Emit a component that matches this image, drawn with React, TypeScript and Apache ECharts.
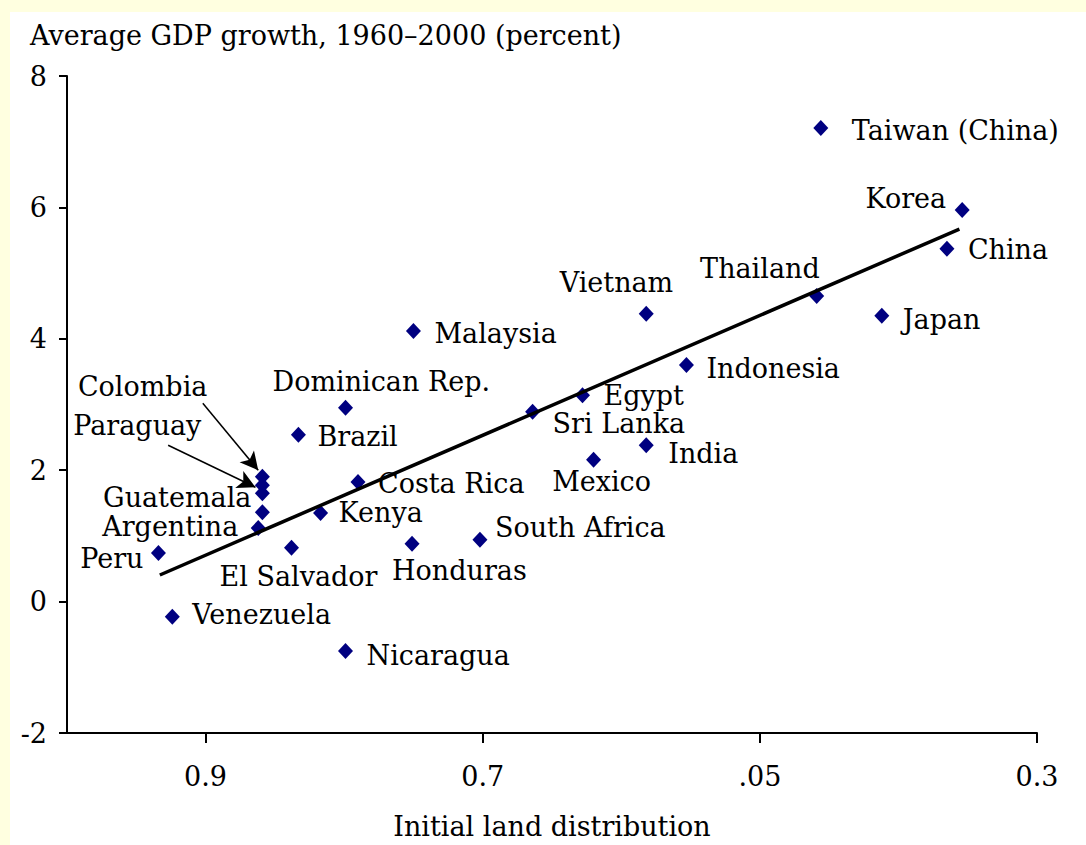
import React, { useEffect, useRef } from "react";
import * as echarts from "echarts";

const countries = [
  "Taiwan (China)", "Korea", "China", "Thailand", "Japan", "Vietnam", "Indonesia",
  "Malaysia", "Egypt", "Sri Lanka", "India", "Mexico", "Dominican Rep.", "Brazil",
  "Costa Rica", "Kenya", "South Africa", "Honduras", "El Salvador", "Venezuela",
  "Nicaragua", "Peru", "Guatemala", "Argentina", "Colombia", "Paraguay", "",
];
const landDistribution = [
  0.456, 0.354, 0.365, 0.459, 0.412, 0.582, 0.553,
  0.75, 0.628, 0.664, 0.582, 0.62, 0.799, 0.833,
  0.79, 0.817, 0.702, 0.751, 0.838, 0.924,
  0.799, 0.934, 0.859, 0.862, 0.859, 0.859, 0.859,
];
const gdpGrowth = [
  7.21, 5.96, 5.37, 4.65, 4.35, 4.38, 3.6,
  4.12, 3.14, 2.89, 2.38, 2.16, 2.95, 2.54,
  1.82, 1.35, 0.94, 0.88, 0.82, -0.23,
  -0.75, 0.74, 1.36, 1.12, 1.9, 1.65, 1.77,
];
const trendX = [0.933, 0.356];
const trendY = [0.405, 5.67];
const xTickValues = [0.9, 0.7, 0.5, 0.3];
const xTickLabels = ["0.9", "0.7", ".05", "0.3"];
const yTitle = "Average GDP growth, 1960\u20132000 (percent)";
const xTitle = "Initial land distribution";

// label placement: [align, dx, dy]
const labelLayout: Record<string, [string, number, number]> = {
  "Taiwan (China)": ["left", 31, 3],
  Korea: ["right", -16, -12],
  China: ["left", 21, 1],
  Thailand: ["right", 3, -28],
  Japan: ["left", 21, 4],
  Vietnam: ["right", 27, -31],
  Indonesia: ["left", 20, 3],
  Malaysia: ["left", 21, 3],
  Egypt: ["left", 21, 0],
  "Sri Lanka": ["left", 20, 12],
  India: ["left", 22, 8],
  Mexico: ["center", 8, 22],
  "Dominican Rep.": ["left", -73, -26],
  Brazil: ["left", 19, 2],
  "Costa Rica": ["left", 20, 1],
  Kenya: ["left", 18, 0],
  "South Africa": ["left", 15, -12],
  Honduras: ["left", -20, 27],
  "El Salvador": ["left", -72, 29],
  Venezuela: ["left", 20, -2],
  Nicaragua: ["left", 21, 5],
  Peru: ["right", -15, 6],
  Guatemala: ["right", -11, -15],
  Argentina: ["right", -20, -2],
  Colombia: ["right", -55, -90],
  Paraguay: ["right", -61, -68],
};

// arrows from labels to points: [fromX, fromY, toX, toY]
const arrows = [
  [0.902, 3.02, 0.862, 2.0],
  [0.927, 2.38, 0.864, 1.74],
];

const FONT = "DejaVu Serif";
const FS = 27;

export default function App() {
  const ref = useRef<HTMLDivElement>(null);
  useEffect(() => {
    if (!ref.current) return;
    const chart = echarts.init(ref.current, null, { renderer: "svg" });
    const data = countries.map((c, i) => {
      const lay = labelLayout[c];
      return {
        name: c,
        value: [landDistribution[i], gdpGrowth[i]],
        label: lay
          ? { show: true, align: lay[0], offset: [lay[1], lay[2]] }
          : { show: false },
      };
    });
    chart.setOption({
      animation: false,
      backgroundColor: "#FFFFE0",
      graphic: [
        {
          type: "rect",
          z: -100,
          shape: { x: 10, y: 12, width: 1076, height: 833 },
          style: { fill: "#ffffff" },
        },
        {
          type: "text",
          left: 30,
          top: 22,
          style: { text: yTitle, font: `${FS}px "${FONT}"`, fill: "#000" },
        },
      ],
      grid: { left: 67, right: 49, top: 76, bottom: 112 },
      xAxis: {
        type: "value",
        min: 0.3,
        max: 1.0,
        inverse: true,
        name: xTitle,
        nameLocation: "middle",
        nameGap: 80,
        nameTextStyle: { fontFamily: FONT, fontSize: FS, color: "#000" },
        axisLine: { onZero: false, lineStyle: { color: "#000", width: 2 } },
        axisTick: { show: true, length: 10, lineStyle: { color: "#000", width: 2 }, customValues: xTickValues },
        axisLabel: {
          customValues: xTickValues,
          margin: 30,
          fontFamily: FONT,
          fontSize: FS,
          color: "#000",
          formatter: (v: number) => {
            const idx = xTickValues.findIndex((t) => Math.abs(t - v) < 1e-6);
            return idx >= 0 ? xTickLabels[idx] : "";
          },
        },
        splitLine: { show: false },
      },
      yAxis: {
        type: "value",
        min: -2,
        max: 8,
        interval: 2,
        axisLine: { show: true, onZero: false, lineStyle: { color: "#000", width: 2 } },
        axisTick: { show: true, length: 8, lineStyle: { color: "#000", width: 2 } },
        axisLabel: { margin: 20, fontFamily: FONT, fontSize: FS, color: "#000", padding: [10, 0, 0, 0] },
        splitLine: { show: false },
      },
      series: [
        {
          type: "line",
          data: trendX.map((x, i) => [x, trendY[i]]),
          showSymbol: false,
          symbol: "none",
          lineStyle: { color: "#000", width: 3.5 },
          z: 3,
        },
        {
          type: "scatter",
          data,
          symbol: "diamond",
          symbolSize: [15, 16],
          itemStyle: { color: "#000080", opacity: 1 },
          z: 2,
          label: {
            show: true,
            position: "inside",
            verticalAlign: "middle",
            formatter: "{b}",
            fontFamily: FONT,
            fontSize: FS,
            color: "#000",
          },
          markLine: {
            silent: true,
            symbol: ["none", "arrow"],
            symbolSize: [14, 18],
            label: { show: false },
            lineStyle: { color: "#000", width: 1.5, type: "solid" },
            data: arrows.map((a) => [
              { coord: [a[0], a[1]] },
              { coord: [a[2], a[3]] },
            ]),
          },
        },
      ],
    });
    return () => chart.dispose();
  }, []);
  return (
    <div
      ref={ref}
      style={{ position: "fixed", left: 0, top: 0, width: 1086, height: 845 }}
    />
  );
}
